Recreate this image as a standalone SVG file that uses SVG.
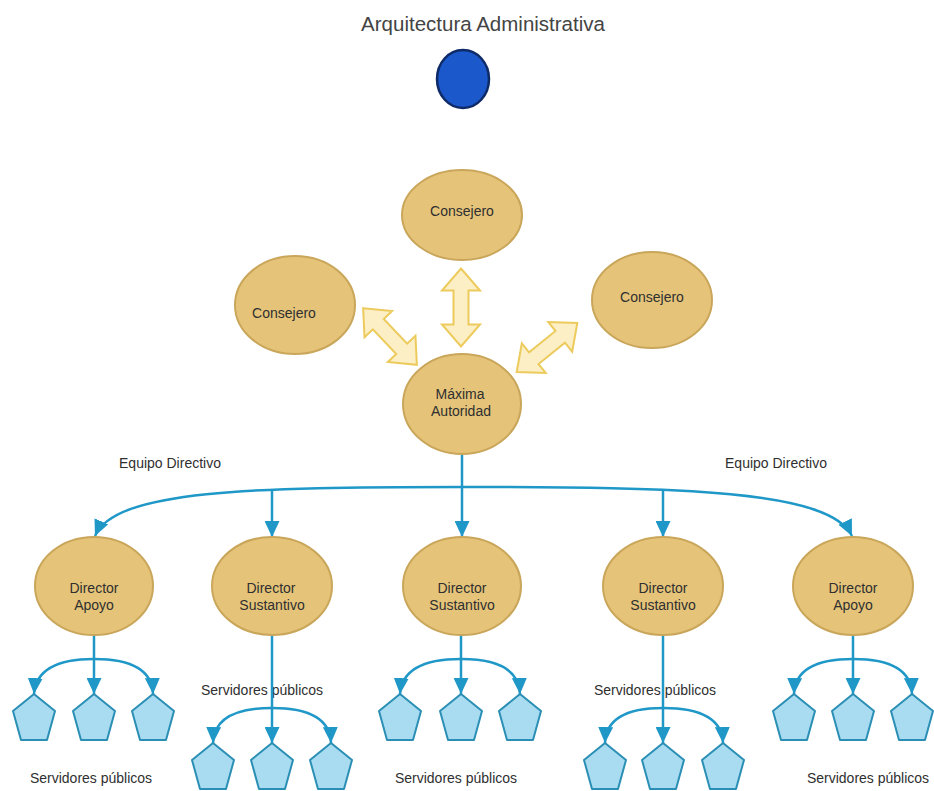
<svg xmlns="http://www.w3.org/2000/svg" xmlns:xlink="http://www.w3.org/1999/xlink" width="934" height="791" viewBox="0 0 934 791">
<style>
  text { font-family: "Liberation Sans", Arial, sans-serif; font-size: 14px; fill: #2f2f2f; text-anchor: middle; }
  .title { font-size: 20.5px; fill: #444; }
  .node { fill: #e5c47a; stroke: #c9a65a; stroke-width: 2; }
  .pent { fill: #a9dcf1; stroke: #2b8fb5; stroke-width: 2; stroke-linejoin: round; }
  .conn { fill: none; stroke: #1f98c8; stroke-width: 2.5; }
  .dbl { fill: #fcefc6; stroke: #eccb5c; stroke-width: 2; stroke-linejoin: miter; }
</style>
<defs>
  <marker id="ah" markerUnits="userSpaceOnUse" markerWidth="17" markerHeight="15" refX="16" refY="7.5" orient="auto" viewBox="0 0 17 15">
    <path d="M0,0 L16,7.5 L0,15 Z" fill="#1f98c8"/>
  </marker>
  <polygon id="pent" points="0,0 21,17 13,46 -13,46 -21,17"/>
  <path id="dblarrow" d="M -39 0 L -17 -19 L -17 -7.5 L 17 -7.5 L 17 -19 L 39 0 L 17 19 L 17 7.5 L -17 7.5 L -17 19 Z"/>
</defs>
<rect width="934" height="791" fill="#ffffff"/>

<g id="title"><text class="title" x="483" y="31">Arquitectura Administrativa</text></g>
<g id="blue-circle"><ellipse cx="463" cy="79" rx="26" ry="29" fill="#1b58cc" stroke="#0e2b68" stroke-width="2.5"/></g>

<g id="labels">
  <text x="170" y="468">Equipo Directivo</text>
  <text x="776" y="468">Equipo Directivo</text>
  <text x="91" y="783">Servidores públicos</text>
  <text x="262" y="695">Servidores públicos</text>
  <text x="456" y="783">Servidores públicos</text>
  <text x="655" y="695">Servidores públicos</text>
  <text x="868" y="783">Servidores públicos</text>
</g>

<g id="connectors">
  <use xlink:href="#dblarrow" class="dbl" transform="translate(461,307.5) rotate(90)"/>
  <use xlink:href="#dblarrow" class="dbl" transform="translate(390,336.5) rotate(46.5)"/>
  <use xlink:href="#dblarrow" class="dbl" transform="translate(547,347.5) rotate(-39)"/>

  <path class="conn" d="M 462 455 L 462 537" marker-end="url(#ah)"/>
  <path class="conn" d="M 462 487 C 250 487, 115 490, 95 536" marker-end="url(#ah)"/>
  <path class="conn" d="M 462 487 C 680 487, 830 490, 852 536" marker-end="url(#ah)"/>
  <path class="conn" d="M 272 489 L 272 537" marker-end="url(#ah)"/>
  <path class="conn" d="M 663 489 L 663 537" marker-end="url(#ah)"/>

  <!-- group 1 -->
  <path class="conn" d="M 94 635 L 94 694" marker-end="url(#ah)"/>
  <path class="conn" d="M 94 659 C 60 659, 36 668, 34 694" marker-end="url(#ah)"/>
  <path class="conn" d="M 94 659 C 128 659, 152 668, 153 694" marker-end="url(#ah)"/>
  <!-- group 2 -->
  <path class="conn" d="M 272 635 L 272 743" marker-end="url(#ah)"/>
  <path class="conn" d="M 272 708 C 238 708, 214 717, 213 743" marker-end="url(#ah)"/>
  <path class="conn" d="M 272 708 C 306 708, 330 717, 331 743" marker-end="url(#ah)"/>
  <!-- group 3 -->
  <path class="conn" d="M 461 635 L 461 694" marker-end="url(#ah)"/>
  <path class="conn" d="M 461 659 C 427 659, 402 668, 400 694" marker-end="url(#ah)"/>
  <path class="conn" d="M 461 659 C 495 659, 519 668, 520 694" marker-end="url(#ah)"/>
  <!-- group 4 -->
  <path class="conn" d="M 663 635 L 663 743" marker-end="url(#ah)"/>
  <path class="conn" d="M 663 708 C 629 708, 606 717, 605 743" marker-end="url(#ah)"/>
  <path class="conn" d="M 663 708 C 697 708, 722 717, 723 743" marker-end="url(#ah)"/>
  <!-- group 5 -->
  <path class="conn" d="M 853 635 L 853 694" marker-end="url(#ah)"/>
  <path class="conn" d="M 853 659 C 819 659, 795 668, 794 694" marker-end="url(#ah)"/>
  <path class="conn" d="M 853 659 C 887 659, 911 668, 912 694" marker-end="url(#ah)"/>
</g>

<g id="consejero-top"><ellipse class="node" cx="462" cy="215" rx="60" ry="45"/><text x="462" y="216">Consejero</text></g>
<g id="consejero-left"><ellipse class="node" cx="295" cy="305" rx="60" ry="49"/><text x="284" y="318">Consejero</text></g>
<g id="consejero-right"><ellipse class="node" cx="652" cy="300" rx="60" ry="48"/><text x="652" y="302">Consejero</text></g>
<g id="maxima-autoridad"><ellipse class="node" cx="462" cy="404" rx="59" ry="50"/><text x="460" y="399">Máxima</text><text x="461" y="416">Autoridad</text></g>

<g id="director-1"><ellipse class="node" cx="94" cy="586" rx="59" ry="49"/><text x="94" y="593">Director</text><text x="94" y="610">Apoyo</text></g>
<g id="director-2"><ellipse class="node" cx="272" cy="586" rx="60" ry="49"/><text x="271" y="593">Director</text><text x="272" y="610">Sustantivo</text></g>
<g id="director-3"><ellipse class="node" cx="462" cy="586" rx="59" ry="49"/><text x="462" y="593">Director</text><text x="462" y="610">Sustantivo</text></g>
<g id="director-4"><ellipse class="node" cx="663" cy="586" rx="60" ry="49"/><text x="663" y="593">Director</text><text x="663" y="610">Sustantivo</text></g>
<g id="director-5"><ellipse class="node" cx="853" cy="586" rx="60" ry="49"/><text x="853" y="593">Director</text><text x="853" y="610">Apoyo</text></g>

<g id="servidores-1">
  <use xlink:href="#pent" class="pent" x="34" y="694"/>
  <use xlink:href="#pent" class="pent" x="94" y="694"/>
  <use xlink:href="#pent" class="pent" x="153" y="694"/>
</g>
<g id="servidores-2">
  <use xlink:href="#pent" class="pent" x="213" y="743"/>
  <use xlink:href="#pent" class="pent" x="272" y="743"/>
  <use xlink:href="#pent" class="pent" x="331" y="743"/>
</g>
<g id="servidores-3">
  <use xlink:href="#pent" class="pent" x="400" y="694"/>
  <use xlink:href="#pent" class="pent" x="461" y="694"/>
  <use xlink:href="#pent" class="pent" x="520" y="694"/>
</g>
<g id="servidores-4">
  <use xlink:href="#pent" class="pent" x="605" y="743"/>
  <use xlink:href="#pent" class="pent" x="663" y="743"/>
  <use xlink:href="#pent" class="pent" x="723" y="743"/>
</g>
<g id="servidores-5">
  <use xlink:href="#pent" class="pent" x="794" y="694"/>
  <use xlink:href="#pent" class="pent" x="853" y="694"/>
  <use xlink:href="#pent" class="pent" x="912" y="694"/>
</g>
</svg>
